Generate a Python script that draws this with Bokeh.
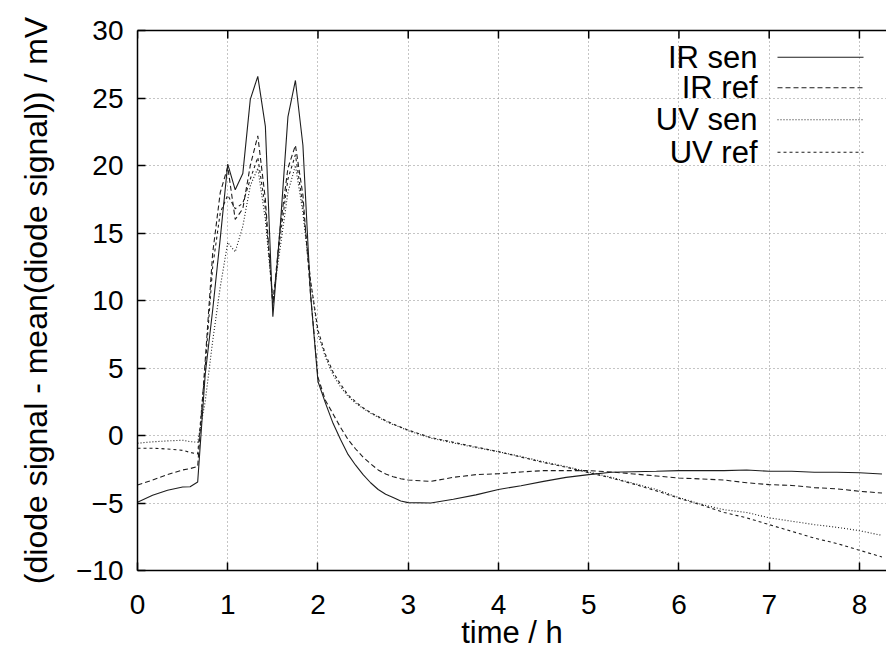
from bokeh.plotting import figure
from bokeh.models import Range1d, LinearAxis, FixedTicker, Label
from bokeh.embed import file_html
from bokeh.resources import INLINE

# time in hours
t = [0, 0.167, 0.333, 0.5, 0.583, 0.667, 0.75, 0.833, 0.917, 1.0, 1.083, 1.167, 1.25,
     1.333, 1.417, 1.5, 1.583, 1.667, 1.75, 1.833, 1.917, 2.0, 2.083, 2.167, 2.25, 2.333,
     2.417, 2.5, 2.583, 2.667, 2.75, 2.833, 2.917, 3.0, 3.25, 3.5, 3.75, 4.0, 4.25, 4.5,
     4.75, 5.0, 5.25, 5.5, 5.75, 6.0, 6.25, 6.5, 6.75, 7.0, 7.25, 7.5, 7.75, 8.0, 8.25]

ir_sen = [-4.95, -4.42, -4.05, -3.82, -3.8, -3.45, 4.5, 9.3, 14.6, 20.1, 18.2, 19.4, 24.9,
          26.6, 22.9, 8.8, 15.6, 23.6, 26.3, 21.5, 10.5, 4.0, 2.4, 0.9, -0.3, -1.4,
          -2.2, -2.9, -3.5, -4.0, -4.35, -4.6, -4.85, -4.97, -5.0, -4.72, -4.4, -4.0, -3.72, -3.4,
          -3.1, -2.9, -2.72, -2.68, -2.65, -2.6, -2.6, -2.6, -2.55, -2.65, -2.65, -2.72, -2.72, -2.76, -2.85]

ir_ref = [-3.67, -3.3, -2.9, -2.55, -2.45, -2.3, 5.5, 13.5, 18.0, 19.9, 16.0, 16.8, 20.0,
          22.2, 17.5, 9.6, 15.5, 19.8, 21.5, 17.8, 10.5, 4.3, 2.6, 1.6, 0.6, -0.3,
          -1.0, -1.6, -2.1, -2.55, -2.85, -3.05, -3.2, -3.3, -3.4, -3.1, -2.9, -2.83, -2.7, -2.6,
          -2.6, -2.6, -2.7, -2.85, -3.0, -3.15, -3.22, -3.3, -3.5, -3.64, -3.7, -3.86, -3.95, -4.13, -4.26]

uv_sen = [-0.57, -0.47, -0.4, -0.35, -0.45, -0.5, 2.5, 7.0, 11.0, 14.3, 13.6, 15.5, 18.5,
          19.8, 16.0, 10.0, 14.0, 18.0, 20.0, 16.5, 11.5, 7.5, 5.8, 4.5, 3.6, 2.9,
          2.4, 2.0, 1.65, 1.35, 1.05, 0.8, 0.6, 0.35, -0.2, -0.55, -0.9, -1.2, -1.55, -1.95,
          -2.3, -2.7, -3.1, -3.55, -4.0, -4.6, -5.1, -5.5, -5.7, -6.1, -6.35, -6.6, -6.8, -7.05, -7.4]

uv_ref = [-0.94, -0.94, -1.0, -1.1, -1.25, -1.37, 5.0, 12.5, 16.5, 17.8, 16.8, 17.2, 19.0,
          20.6, 16.8, 9.8, 14.8, 19.0, 20.8, 17.0, 11.5, 7.8, 6.0, 4.7, 3.8, 3.0,
          2.5, 2.05, 1.7, 1.4, 1.1, 0.85, 0.62, 0.4, -0.15, -0.5, -0.85, -1.2, -1.6, -2.0,
          -2.35, -2.75, -3.15, -3.6, -4.1, -4.65, -5.15, -5.7, -6.1, -6.6, -7.1, -7.6, -8.0, -8.5, -9.0]

series_names = ["IR sen", "IR ref", "UV sen", "UV ref"]
x_ticks = [0, 1, 2, 3, 4, 5, 6, 7, 8]
y_ticks = [-10, -5, 0, 5, 10, 15, 20, 25, 30]

FONT = "Liberation Sans"
LINE_COLOR = "#1e1e1e"
DASHES = ["solid", "5 3", "1 2", "3 3"]

FRAME_W, FRAME_H = 749, 540

p = figure(width=886, height=658, x_range=Range1d(0, 8.30), y_range=Range1d(-10, 30),
           output_backend="svg", toolbar_location=None,
           min_border_left=137, min_border_right=0, min_border_top=30, min_border_bottom=88,
           x_axis_label="time / h", y_axis_label="(diode signal - mean(diode signal)) / mV")
p.outline_line_color = None
p.background_fill_color = "white"
p.border_fill_color = "white"

# pixel helper ranges (frame-relative, y from top) for the key
p.extra_x_ranges = {"px": Range1d(0, FRAME_W)}
p.extra_y_ranges = {"px": Range1d(FRAME_H, 0)}

p.xaxis.ticker = FixedTicker(ticks=x_ticks)
p.yaxis.ticker = FixedTicker(ticks=y_ticks)

for ax in (p.xaxis[0], p.yaxis[0]):
    ax.axis_line_color = "black"
    ax.axis_line_width = 1.5
    ax.major_tick_line_color = "black"
    ax.major_tick_line_width = 1.5
    ax.major_tick_in = 8
    ax.major_tick_out = 0
    ax.minor_tick_line_color = None
    ax.major_label_text_font = FONT
    ax.major_label_text_font_size = "28px"
    ax.major_label_text_color = "black"
    ax.axis_label_text_font = FONT
    ax.axis_label_text_font_style = "normal"
    ax.axis_label_text_color = "black"

p.xaxis.axis_label_text_font_size = "31px"
p.yaxis.axis_label_text_font_size = "32px"
p.xaxis.major_label_standoff = 24
p.xaxis.axis_label_standoff = -2
p.yaxis.major_label_standoff = 14
p.yaxis.axis_label_standoff = 19

# top frame line (no labels)
top = LinearAxis(ticker=FixedTicker(ticks=[]), axis_line_color="black", axis_line_width=1.5,
                 major_tick_line_color=None, minor_tick_line_color=None)
p.add_layout(top, "above")
# inward ticks on the top frame line
p.segment(x0=x_ticks, x1=x_ticks, y0=[0] * len(x_ticks), y1=[8] * len(x_ticks),
          y_range_name="px", line_color="black", line_width=1.5)

for g in (p.xgrid[0], p.ygrid[0]):
    g.grid_line_color = "#8a8a8a"
    g.grid_line_dash = "1 3"
    g.grid_line_width = 1

for ys, dash in zip([ir_sen, ir_ref, uv_sen, uv_ref], DASHES):
    p.line(t, ys, line_color=LINE_COLOR, line_width=1.1, line_dash=dash)

# key: text right-aligned, sample line to its right (gnuplot style)
key_rows = [26.7, 57.3, 89.3, 121.7]
for name, dash, ry in zip(series_names, DASHES, key_rows):
    p.line([640, 726], [ry, ry], x_range_name="px", y_range_name="px",
           line_color=LINE_COLOR, line_width=1.1, line_dash=dash)
    p.add_layout(Label(x=620, y=ry, x_range_name="px", y_range_name="px",
                       text=name, text_align="right", text_baseline="middle",
                       text_font=FONT, text_font_size="31px", text_color="black"))

open("out.html", "w").write(file_html(p, INLINE))
